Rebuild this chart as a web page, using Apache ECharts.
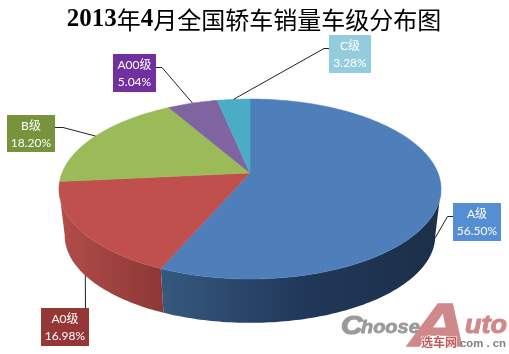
<!DOCTYPE html>
<html>
<head>
<meta charset="utf-8">
<style>
html,body{margin:0;padding:0;background:#fff;}
#main{width:509px;height:354px;}
</style>
<script src="https://cdn.jsdelivr.net/npm/echarts@6/dist/echarts.min.js"></script>
</head>
<body>
<div id="main"></div>
<script>
// 数据
var categories = ['A级', 'A0级', 'B级', 'A00级', 'C级'];
var shareValues = [56.50, 16.98, 18.20, 5.04, 3.28];

// 颜色
var sliceColors = ['#4f7fba', '#c0504d', '#9bbb59', '#8064a2', '#4bacc6'];
var boxColors = ['#558ed5', '#953735', '#77933c', '#7030a0', '#93cddd'];
var wallStops = [
    [[0, '#36597f'], [0.5, '#21385a'], [1, '#1c2f48']],
    [[0, '#b24d4a'], [1, '#8c3836']]
];

// 标注框 [x, y, 宽, 高]，折点 [x, y]
var boxRects = [[453, 203, 48, 38], [41, 308, 48, 38], [7, 115, 48, 37], [113, 54, 43, 38], [329, 35, 42, 38]];
var elbows = [[[447.5, 216.5], [453, 216.5]], [[85.5, 308]], [[63, 127.5], [55, 127.5]], [[162, 67.5], [156, 67.5]], [[324, 48.5], [329, 48.5]]];

// 透视椭圆参数
var cx = 250, apexY = 173, radiusX = 188, persp = 0.1778, tiltY = -56.4;
var bottomApexY = 220, bottomScale = 0.97;
var wallFrom = 100, wallTo = 260; // 可见侧面的角度范围

function rimPoint(deg, isBottom) {
    var rad = deg * Math.PI / 180;
    var u = Math.sin(rad), v = Math.cos(rad);
    var w = 1 + persp * v;
    var s = isBottom ? bottomScale : 1;
    return [cx + s * radiusX * u / w, (isBottom ? bottomApexY : apexY) + s * ((apexY + tiltY * v) / w - apexY)];
}

function arcPoints(from, to, isBottom) {
    var pts = [];
    for (var d = from; d < to; d += 1) {
        pts.push(rimPoint(d, isBottom));
    }
    pts.push(rimPoint(to, isBottom));
    return pts;
}

var total = 0;
for (var i = 0; i < shareValues.length; i++) {
    total += shareValues[i];
}

function renderSlice(params, api) {
    var idx = params.dataIndex;
    var start = 0;
    for (var i = 0; i < idx; i++) {
        start += shareValues[i];
    }
    var a1 = start / total * 360;
    var a2 = (start + api.value(0)) / total * 360;
    var mid = (a1 + a2) / 2;
    var children = [];

    // 侧面
    var wa = Math.max(a1, wallFrom), wb = Math.min(a2, wallTo);
    if (wb > wa && wallStops[idx]) {
        var stops = [];
        for (var k = 0; k < wallStops[idx].length; k++) {
            stops.push({offset: wallStops[idx][k][0], color: wallStops[idx][k][1]});
        }
        children.push({
            type: 'polygon',
            shape: {points: arcPoints(wa, wb, false).concat(arcPoints(wa, wb, true).reverse())},
            style: {fill: new echarts.graphic.LinearGradient(0, 0, 1, 0, stops)}
        });
    }

    // 顶面
    children.push({
        type: 'polygon',
        shape: {points: [[cx, apexY]].concat(arcPoints(a1, a2, false))},
        style: {fill: sliceColors[idx], stroke: sliceColors[idx], lineWidth: 0.5}
    });

    // 引导线
    var front = mid > wallFrom && mid < wallTo;
    var linePts = [rimPoint(mid, front)].concat(elbows[idx]);
    children.push({
        type: 'polyline',
        shape: {points: linePts},
        style: {fill: null, stroke: '#222', lineWidth: 1},
        z2: 5
    });

    // 标注框
    var r = boxRects[idx];
    children.push({
        type: 'rect',
        shape: {x: r[0], y: r[1], width: r[2], height: r[3]},
        style: {fill: boxColors[idx]},
        z2: 6
    });
    children.push({
        type: 'text',
        x: r[0] + r[2] / 2,
        y: r[1] + 11,
        style: {text: categories[idx], fill: '#fff', align: 'center', verticalAlign: 'middle',
            font: '12px Lato, "Noto Sans CJK SC"'},
        z2: 7
    });
    children.push({
        type: 'text',
        x: r[0] + r[2] / 2,
        y: r[1] + 28,
        style: {text: api.value(0).toFixed(2) + '%', fill: '#fff', align: 'center', verticalAlign: 'middle',
            font: '12px Lato, "Noto Sans CJK SC"'},
        z2: 7
    });
    return {type: 'group', children: children};
}

var myChart = echarts.init(document.getElementById('main'));
var option = {
    animation: false,
    backgroundColor: '#fff',
    title: {
        text: '{n|2013}{c|年}{n|4}{c|月全国轿车销量车级分布图}',
        left: 249,
        top: 2,
        textAlign: 'center',
        textStyle: {
            rich: {
                n: {fontFamily: 'Liberation Serif', fontWeight: 'bold', fontSize: 25, color: '#000'},
                c: {fontFamily: 'Noto Sans CJK SC', fontWeight: 'normal', fontSize: 24, color: '#000'}
            }
        }
    },
    series: [{
        type: 'custom',
        coordinateSystem: 'none',
        silent: true,
        renderItem: renderSlice,
        data: shareValues.map(function (v) { return [v]; })
    }],
    graphic: [
        {type: 'text', x: 341, y: 314, scaleX: 1.15, style: {text: 'C', fill: '#9a9a9a', stroke: '#9a9a9a', lineWidth: 1.2, font: 'italic bold 26px "Liberation Sans"'}},
        {type: 'text', x: 361, y: 318, scaleX: 1.05, style: {text: 'hoose', fill: '#9a9a9a', stroke: '#9a9a9a', lineWidth: 0.8, font: 'italic bold 19px "Liberation Sans"'}},
        {type: 'text', x: 409, y: 298, scaleX: 1.3, style: {text: 'A', fill: '#cf898b', stroke: '#cf898b', lineWidth: 1.5, font: 'italic bold 62px "Liberation Sans"'}},
        {type: 'text', x: 465, y: 314, scaleX: 1.08, style: {text: 'uto', fill: '#cf898b', stroke: '#cf898b', lineWidth: 1, font: 'italic bold 25px "Liberation Sans"'}},
        {type: 'text', x: 421, y: 336, style: {text: '选车网', fill: '#c25a5c', stroke: '#fff', lineWidth: 1, font: 'bold 12px "Noto Sans CJK SC"'}},
        {type: 'text', x: 460, y: 338, scaleX: 1.03, style: {text: 'com . cn', fill: '#808080', font: 'bold 11px "Liberation Sans"'}}
    ]
};
myChart.setOption(option);
</script>
</body>
</html>
